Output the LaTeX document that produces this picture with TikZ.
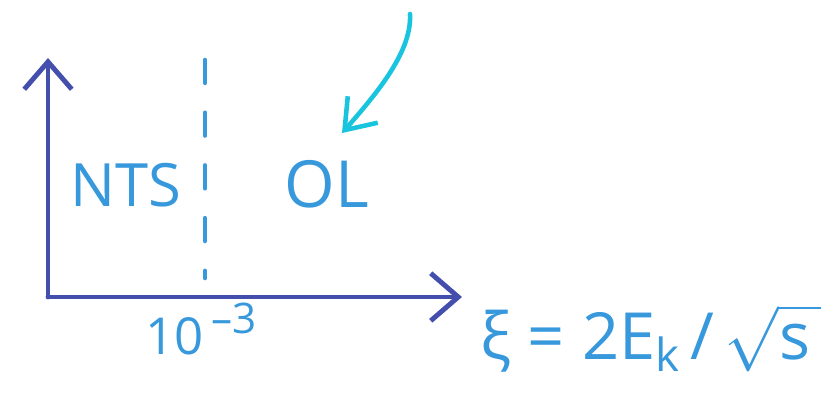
\documentclass[tikz,border=0pt]{standalone}
\usepackage{fontspec}
\usepackage{unicode-math}
\setmainfont{Open Sans}
\setmathfont{Latin Modern Math}
\usetikzlibrary{arrows.meta}
\definecolor{axisblue}{RGB}{68,78,172}
\definecolor{inkblue}{RGB}{55,152,220}
\definecolor{inkcyan}{RGB}{25,196,222}

\begin{document}
\begin{tikzpicture}[x=0.02cm,y=-0.02cm]

% Canvas
\useasboundingbox (0,0) rectangle (832,400);

% Styles
\tikzset{
  axis/.style={axisblue, line width=2.8pt, line cap=round,
    -{Straight Barb[length=0.55cm,width=0.95cm,line width=2.8pt]}},
  label/.style={inkblue, font=\fontsize{34}{40}\selectfont},
}

% Axes
\coordinate (origin) at (48,297);
\coordinate (ytop) at (48,58);
\coordinate (xend) at (462,297);
\draw[axis] (origin) -- (ytop); % Y-axis
\draw[axis] (origin) -- (xend); % X-axis

% Boundary at 10^-3
\coordinate (btop) at (205,60);
\coordinate (bbot) at (205,278);
\draw[inkblue, line width=2.6pt, line cap=round, dash pattern=on 13pt off 17pt] (btop) -- (bbot);

% Region labels
\node[label] (nts) at (126,185) {NTS};
\node[label, font=\fontsize{37}{42}\selectfont] (ol) at (327,184) {OL};

% Tick label
\node[label, font=\fontsize{29}{34}\selectfont] (tick) at (201,329)
  {10\raisebox{0.8ex}{\fontsize{24}{28}\selectfont\,–3}};

% Axis variable
\node[label, anchor=west, font=\fontsize{37}{42}\selectfont] (xi) at (474,338)
  {ξ = 2E\raisebox{-0.35ex}{\fontsize{26}{30}\selectfont k}\,/\,$\sqrt{\mbox{s}\,}$};

% Pointer to OL
\coordinate (ptail) at (410,14);
\coordinate (phead) at (342,133);
\draw[inkcyan, line width=2.6pt, line cap=round,
  -{Straight Barb[length=0.55cm,width=0.8cm,line width=2.6pt]}]
  (ptail) .. controls (412,50) and (380,90) .. (phead);

\end{tikzpicture}
\end{document}
